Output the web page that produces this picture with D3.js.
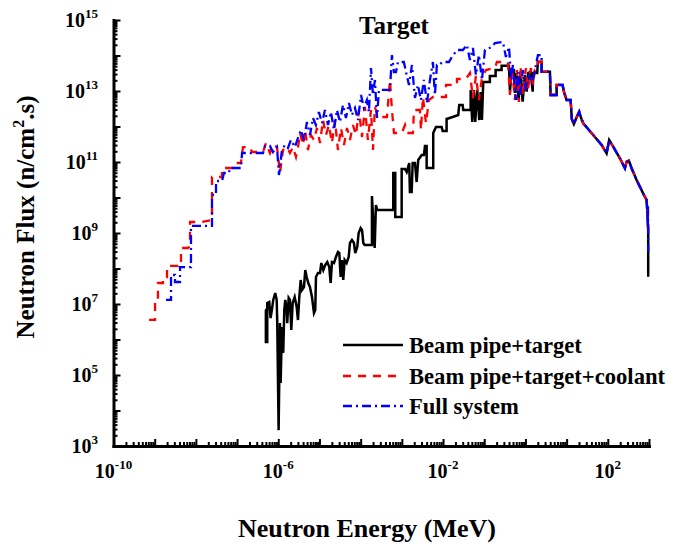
<!DOCTYPE html>
<html>
<head>
<meta charset="utf-8">
<script src="https://cdn.jsdelivr.net/npm/d3@7"></script>
<style>
  body { margin: 0; background: #fff; }
  text { font-family: "Liberation Serif", "Times New Roman", serif; font-weight: bold; fill: #000; }
</style>
</head>
<body>
<svg id="chart" width="689" height="548"></svg>
<script>
// Neutron flux spectra at the target: [energy (MeV), flux (n/cm^2.s)]
const beamPipeTarget = [
  [4.75e-7,6.8e6],[5.0e-7,6.8e6],[5.0e-7,8.5e5],[5.4e-7,8.5e5],[5.4e-7,1.07e7],[6.05e-7,1.14e7],[6.5e-7,4.0e6],[7.0e-7,6.8e6],
  [7.55e-7,1.3e7],[8.45e-7,2.04e7],[9.15e-7,1.3e7],[9.45e-7,2.9e6],[1.02e-6,2.8e3],[1.1e-6,2.9e6],[1.14e-6,5.95e4],[1.23e-6,2.25e6],
  [1.32e-6,4.2e5],[1.40e-6,6.8e6],[1.48e-6,1.3e7],[1.60e-6,6.8e6],[1.65e-6,2.9e6],[1.79e-6,1.48e7],[1.92e-6,1.3e7],[2.07e-6,1.85e6],
  [2.24e-6,1.07e7],[2.50e-6,1.57e7],[2.80e-6,8.2e6],[3.01e-6,3.54e6],[3.24e-6,1.57e7],[3.50e-6,4.74e7],[3.76e-6,2.48e7],[4.21e-6,3.01e7],
  [4.52e-6,9.07e7],[4.89e-6,5.76e7],[5.35e-6,3.9e7],[5.88e-6,3.01e7],[6.58e-6,1.57e7],[7.36e-6,5.57e6],[7.91e-6,6.8e6],[8.22e-6,5.76e7],
  [9.2e-6,7.47e7],[1.03e-5,7.47e7],[1.11e-5,1.43e8],[1.24e-5,9.07e7],[1.38e-5,1.26e8],[1.55e-5,1.52e8],[1.73e-5,1.10e8],[1.87e-5,3.9e7],
  [2.01e-5,1.52e8],[2.25e-5,1.43e8],[2.51e-5,2.11e8],[2.81e-5,2.92e8],[3.03e-5,2.73e8],[3.27e-5,5.76e7],[3.52e-5,1.73e8],[3.78e-5,4.74e7],
  [4.09e-5,1.73e8],[4.57e-5,1.43e8],[5.12e-5,2.11e8],[5.50e-5,5.23e8],[6.15e-5,6.35e8],[6.88e-5,5.23e8],[7.39e-5,2.73e8],[8.27e-5,4.03e8],
  [8.94e-5,1.0e9],[1.0e-4,1.38e9],[1.08e-4,1.22e9],[1.16e-4,5.23e8],[1.25e-4,4.59e8],[1.88e-4,4.59e8],[1.88e-4,1.10e10],[2.02e-4,2.32e9],
  [2.19e-4,3.78e8],[2.35e-4,6.15e9],[2.53e-4,4.45e9],[6.18e-4,4.45e9],[6.18e-4,4.9e10],[6.92e-4,4.9e10],[6.92e-4,2.82e9],[9.9e-4,2.82e9],
  [9.9e-4,6.35e10],[1.19e-3,6.35e10],[1.31e-3,5.23e10],[1.51e-3,9.37e10],[1.57e-3,1.43e10],[1.73e-3,1.43e10],[1.83e-3,9.37e10],[2.08e-3,9.37e10],
  [2.29e-3,2.73e10],[2.50e-3,1.14e11],[3.03e-3,1.57e11],[3.44e-3,1.57e11],[3.64e-3,2.82e11],[4.0e-3,2.82e11],[4.0e-3,6.78e10],[5.78e-3,6.78e10],
  [5.78e-3,6.56e11],[6.73e-3,9.68e11],[9.25e-3,9.68e11],[9.78e-3,7.47e11],[1.22e-2,7.47e11],[1.22e-2,1.63e12],[1.71e-2,1.85e12],[2.34e-2,2.11e12],
  [2.47e-2,4.03e12],[2.99e-2,4.03e12],[3.09e-2,2.92e12],[4.68e-2,2.92e12],[4.68e-2,1.07e13],[5.12e-2,1.34e12],[5.62e-2,1.07e13],[6.05e-2,1.34e12],
  [6.76e-2,1.07e13],[7.57e-2,1.52e12],[8.18e-2,9.37e12],[8.79e-2,1.52e12],[9.46e-2,1.79e13],[0.137,1.79e13],[0.137,2.65e13],[0.189,2.65e13],
  [0.189,3.9e13],[0.264,3.9e13],[0.264,5.16e13],[0.398,5.16e13],[0.421,9.55e12],[0.462,3.9e13],[0.526,3.9e13],[0.556,8.79e12],
  [0.611,3.21e13],[0.684,5.57e12],[0.764,3.5e13],[0.855,5.0e12],[0.972,2.82e13],[1.07,9.55e12],[1.17,3.21e13],[1.34,3.5e13],
  [1.50,9.55e12],[1.55,3.21e13],[1.93,3.21e13],[2.01,6.69e13],[2.47,6.69e13]
];

const beamPipeTargetCoolant = [
  [7.3e-10,3.55e6],[1.02e-9,3.55e6],[1.02e-9,1.14e7],[1.20e-9,1.14e7],[1.20e-9,3.9e7],[1.59e-9,3.9e7],[1.59e-9,5.76e7],[1.99e-9,5.76e7],
  [1.99e-9,1.18e8],[3.67e-9,1.18e8],[3.67e-9,1.52e8],[4.35e-9,1.52e8],[4.35e-9,3.78e8],[6.43e-9,3.78e8],[7.2e-9,4.3e8],[7.2e-9,2.04e9],
  [1.41e-8,2.04e9],[2.46e-8,2.32e9],[2.46e-8,3.78e10],[4.30e-8,3.78e10],[4.30e-8,6.78e10],[7.95e-8,6.78e10],[8.9e-8,9.37e10],[1.24e-7,9.37e10],
  [1.39e-7,2.64e11],[2.06e-7,2.64e11],[2.30e-7,1.91e11],[4.26e-7,1.91e11],[5.03e-7,3.43e11],[6.28e-7,1.79e11],[7.44e-7,3.01e11],[9.3e-7,2.64e11],
  [1.10e-6,4.9e10],[1.30e-6,2.18e11],[1.63e-6,2.64e11],[1.92e-6,1.79e11],[2.27e-6,2.64e11],[2.69e-6,1.38e11],[3.0e-6,2.48e11],[3.37e-6,6.56e11],
  [3.98e-6,3.01e11],[4.45e-6,7.97e11],[5.26e-6,2.18e11],[6.2e-6,5.76e11],[7.36e-6,4.17e11],[8.7e-6,9.07e11],[1.03e-5,3.43e11],[1.22e-5,1.52e12],
  [1.44e-5,5.76e11],[1.70e-5,1.10e12],[2.01e-5,3.43e11],[2.38e-5,1.52e12],[2.81e-5,2.18e11],[3.33e-5,9.07e11],[3.94e-5,3.01e11],[4.66e-5,9.07e11],
  [5.5e-5,4.17e11],[6.5e-5,1.10e12],[7.7e-5,5.76e11],[9.1e-5,2.92e12],[1.08e-4,5.06e11],[1.27e-4,3.55e12],[1.50e-4,4.17e11],[1.78e-4,2.92e12],
  [1.99e-4,2.18e11],[2.22e-4,3.55e12],[2.63e-4,1.85e12],[4.35e-4,1.85e12],[5.14e-4,2.04e13],[5.75e-4,2.92e12],[6.43e-4,6.56e11],[1.0e-3,6.56e11],
  [1.19e-3,1.10e12],[1.33e-3,6.56e11],[1.86e-3,6.56e11],[1.97e-3,2.92e12],[2.75e-3,2.92e12],[2.91e-3,7.97e11],[3.25e-3,6.78e12],[3.85e-3,1.25e12],
  [4.55e-3,5.57e12],[5.68e-3,6.78e12],[8.4e-3,6.78e12],[1.18e-2,6.78e12],[1.18e-2,1.48e13],[2.18e-2,1.48e13],[2.18e-2,2.18e13],[3.60e-2,2.18e13],
  [4.50e-2,3.21e13],[5.32e-2,6.35e12],[6.28e-2,2.65e13],[7.44e-2,5.57e12],[8.8e-2,2.32e13],[0.110,3.9e13],[0.182,4.44e13],[0.203,6.56e13],
  [0.376,6.56e13],[0.42,7.71e12],[0.47,4.44e13],[0.557,5.57e12],[0.622,3.9e13],[0.693,4.9e12],[0.778,5.06e13],[0.87,7.71e12],
  [1.03,4.44e13],[1.15,1.07e13],[1.36,4.44e13],[1.52,1.48e13],[1.70,3.9e13],[1.90,3.9e13],[2.01,6.56e13],[2.47,6.56e13]
];

const fullSystem = [
  [1.88e-9,1.30e7],[2.49e-9,1.30e7],[2.49e-9,6.56e7],[3.11e-9,6.56e7],[3.11e-9,4.17e7],[4.12e-9,4.17e7],[4.12e-9,1.10e8],[7.6e-9,1.10e8],
  [7.6e-9,1.58e9],[2.46e-8,1.58e9],[2.46e-8,1.18e10],[3.08e-8,1.18e10],[3.08e-8,2.92e10],[4.30e-8,2.92e10],[4.81e-8,4.9e10],[6.35e-8,4.9e10],
  [6.7e-8,6.78e10],[1.24e-7,6.78e10],[1.32e-7,1.79e11],[4.26e-7,1.79e11],[4.76e-7,2.82e11],[6.28e-7,2.82e11],[7.44e-7,1.91e11],[9.3e-7,2.64e11],
  [1.04e-6,4.3e10],[1.23e-6,2.18e11],[1.45e-6,3.01e11],[1.72e-6,2.48e11],[2.03e-6,4.17e11],[2.54e-6,2.64e11],[3.0e-6,4.74e11],[3.55e-6,7.97e11],
  [4.2e-6,4.17e11],[4.97e-6,1.34e12],[5.88e-6,5.76e11],[6.95e-6,1.74e12],[8.2e-6,1.10e12],[9.7e-6,2.56e12],[1.15e-5,1.25e12],[1.36e-5,2.92e12],
  [1.61e-5,1.10e12],[1.90e-5,2.56e12],[2.25e-5,7.97e11],[2.66e-5,2.92e12],[3.15e-5,1.34e12],[3.72e-5,4.03e12],[4.4e-5,1.74e12],[5.2e-5,4.59e12],
  [6.15e-5,2.11e12],[7.28e-5,3.32e12],[8.6e-5,1.52e12],[1.02e-4,7.71e12],[1.20e-4,3.32e12],[1.42e-4,5.57e12],[1.59e-4,2.56e12],[1.78e-4,4.44e13],
  [1.99e-4,7.71e12],[2.22e-4,2.04e13],[2.49e-4,1.74e12],[2.78e-4,1.07e13],[5.14e-4,1.07e13],[5.75e-4,1.03e14],[6.43e-4,3.43e13],[7.2e-4,3.43e13],
  [8.05e-4,6.56e13],[1.12e-3,6.56e13],[1.26e-3,3.43e13],[1.49e-3,1.48e13],[1.76e-3,5.40e13],[2.08e-3,6.35e12],[2.46e-3,1.48e13],[2.91e-3,5.57e12],
  [3.44e-3,2.04e13],[4.07e-3,4.59e12],[4.81e-3,2.04e13],[5.68e-3,6.56e13],[6.35e-3,7.71e12],[7.1e-3,5.40e13],[8.4e-3,5.40e13],[9.4e-3,6.56e13],
  [1.39e-2,6.56e13],[1.64e-2,9.07e13],[2.18e-2,1.43e14],[3.04e-2,1.43e14],[3.8e-2,1.98e14],[4.5e-2,7.47e13],[5.32e-2,1.63e14],[6.28e-2,2.82e13],
  [7.44e-2,1.03e14],[8.8e-2,2.04e13],[0.104,1.43e14],[0.154,1.74e14],[0.182,2.25e14],[0.285,2.4e14],[0.336,9.07e13],[0.40,1.74e14],
  [0.452,2.04e13],[0.497,5.40e13],[0.588,5.57e12],[0.666,3.43e13],[0.736,7.71e12],[0.87,3.9e13],[1.03,1.07e13],[1.22,2.82e13],
  [1.44,1.48e13],[1.70,3.9e13],[2.01,1.03e14],[2.47,1.03e14]
];

// High-energy part shared by all three configurations
const highEnergyTail = [
  [2.47,3.5e13],[3.93,3.5e13],[4.09,7.71e12],[5.72,7.71e12],[5.72,1.48e13],[8.0,1.48e13],[8.6,9.55e12],[10,5.57e12],
  [12.5,5.57e12],[13.4,1.6e12],[15.0,1.18e12],[17.5,1.82e12],[20.2,2.61e12],[22.6,1.70e12],[25.3,1.23e12],[44.2,5.76e11],
  [70.8,3.01e11],[93.5,1.76e11],[108,4.17e11],[135,2.70e11],[197,1.27e11],[260,6.65e10],[286,1.02e11],[325,1.09e11],
  [378,6.65e10],[500,3.11e10],[601,2.02e10],[752,1.18e10],[875,8.5e9],[904,4.45e9],[957,1.22e9]
];
const blackCutoff = [[957,5.87e7]];
const blueCutoff = [[930,2.2e9],[945,6.0e9],[957,3.0e8]];

const seriesNames = ["Beam pipe+target", "Beam pipe+target+coolant", "Full system"];
const seriesColors = ["#000000", "#ff0000", "#0000ff"];
const seriesDash = [null, "8,7", "9,4,2,4"];
const xLabelExponents = [-10, -6, -2, 2];
const yLabelExponents = [3, 5, 7, 9, 11, 13, 15];

const svg = d3.select("#chart");
svg.append("rect").attr("width", 689).attr("height", 548).attr("fill", "#fff");

const x = d3.scaleLog().domain([1e-10, 1e3]).range([113.5, 649]);
const y = d3.scaleLog().domain([1e3, 1e15]).range([446, 20]);

function decades(lo, hi) { const v = []; for (let e = lo; e <= hi; e++) v.push(Math.pow(10, e)); return v; }
function minors(lo, hi) { const v = []; for (let e = lo; e < hi; e++) for (let m = 2; m <= 9; m++) v.push(m * Math.pow(10, e)); return v; }

// curves
const line = d3.line().x(d => x(d[0])).y(d => y(d[1]));
const curves = [
  beamPipeTarget.concat(highEnergyTail, blackCutoff),
  beamPipeTargetCoolant.concat(highEnergyTail),
  fullSystem.concat(highEnergyTail, blueCutoff)
];
curves.forEach((pts, i) => {
  svg.append("path").datum(pts).attr("d", line)
    .attr("fill", "none").attr("stroke", seriesColors[i])
    .attr("stroke-width", i === 0 ? 2.5 : 2.3)
    .attr("stroke-linejoin", "miter")
    .attr("stroke-dasharray", seriesDash[i]);
});

// axes (ticks point inward)
const gx = svg.append("g").attr("transform", "translate(0,446)");
gx.call(d3.axisBottom(x).tickValues(decades(-10, 3)).tickSizeInner(-7).tickSizeOuter(0).tickFormat(""));
gx.append("g").call(d3.axisBottom(x).tickValues(minors(-10, 3)).tickSizeInner(-4).tickSizeOuter(0).tickFormat(""))
  .select(".domain").remove();
const gy = svg.append("g").attr("transform", "translate(113.5,0)");
gy.call(d3.axisLeft(y).tickValues(decades(3, 15)).tickSizeInner(-7).tickSizeOuter(0).tickFormat(""));
gy.append("g").call(d3.axisLeft(y).tickValues(minors(3, 15)).tickSizeInner(-4).tickSizeOuter(0).tickFormat(""))
  .select(".domain").remove();
svg.selectAll(".domain").attr("stroke", "#000").attr("stroke-width", 3).attr("stroke-linecap", "square");
svg.selectAll(".tick line").attr("stroke", "#000").attr("stroke-width", 2);

// tick labels with superscript exponents
svg.selectAll(".xlab").data(xLabelExponents).join("text").attr("class", "xlab")
  .attr("x", d => x(Math.pow(10, d))).attr("y", 478).attr("text-anchor", "middle")
  .each(function (d) {
    const t = d3.select(this);
    t.append("tspan").attr("font-size", 20).text("10");
    t.append("tspan").attr("font-size", 13).attr("dy", -9).text(String(d));
  });
svg.selectAll(".ylab").data(yLabelExponents).join("text").attr("class", "ylab")
  .attr("x", 98).attr("y", d => y(Math.pow(10, d)) + 7).attr("text-anchor", "end")
  .each(function (d) {
    const t = d3.select(this);
    t.append("tspan").attr("font-size", 20).text("10");
    t.append("tspan").attr("font-size", 13).attr("dy", -9).text(String(d));
  });

// titles
svg.append("text").attr("x", 394).attr("y", 34).attr("text-anchor", "middle")
  .attr("font-size", 25).text("Target");
svg.append("text").attr("x", 367).attr("y", 537).attr("text-anchor", "middle")
  .attr("font-size", 26).text("Neutron Energy (MeV)");
const yt = svg.append("text").attr("transform", "translate(34,217) rotate(-90)")
  .attr("text-anchor", "middle").attr("font-size", 25);
yt.append("tspan").text("Neutron Flux (n/cm");
yt.append("tspan").attr("font-size", 16).attr("dy", -10).text("2");
yt.append("tspan").attr("dy", 10).text(".s)");

// legend
const legendRows = [345, 376, 406];
seriesNames.forEach((name, i) => {
  svg.append("line").attr("x1", 343).attr("x2", 403)
    .attr("y1", legendRows[i]).attr("y2", legendRows[i])
    .attr("stroke", seriesColors[i]).attr("stroke-width", 2.3)
    .attr("stroke-dasharray", seriesDash[i]);
  svg.append("text").attr("x", 409).attr("y", legendRows[i] + 8)
    .attr("font-size", 22.6).text(name);
});
</script>
</body>
</html>
